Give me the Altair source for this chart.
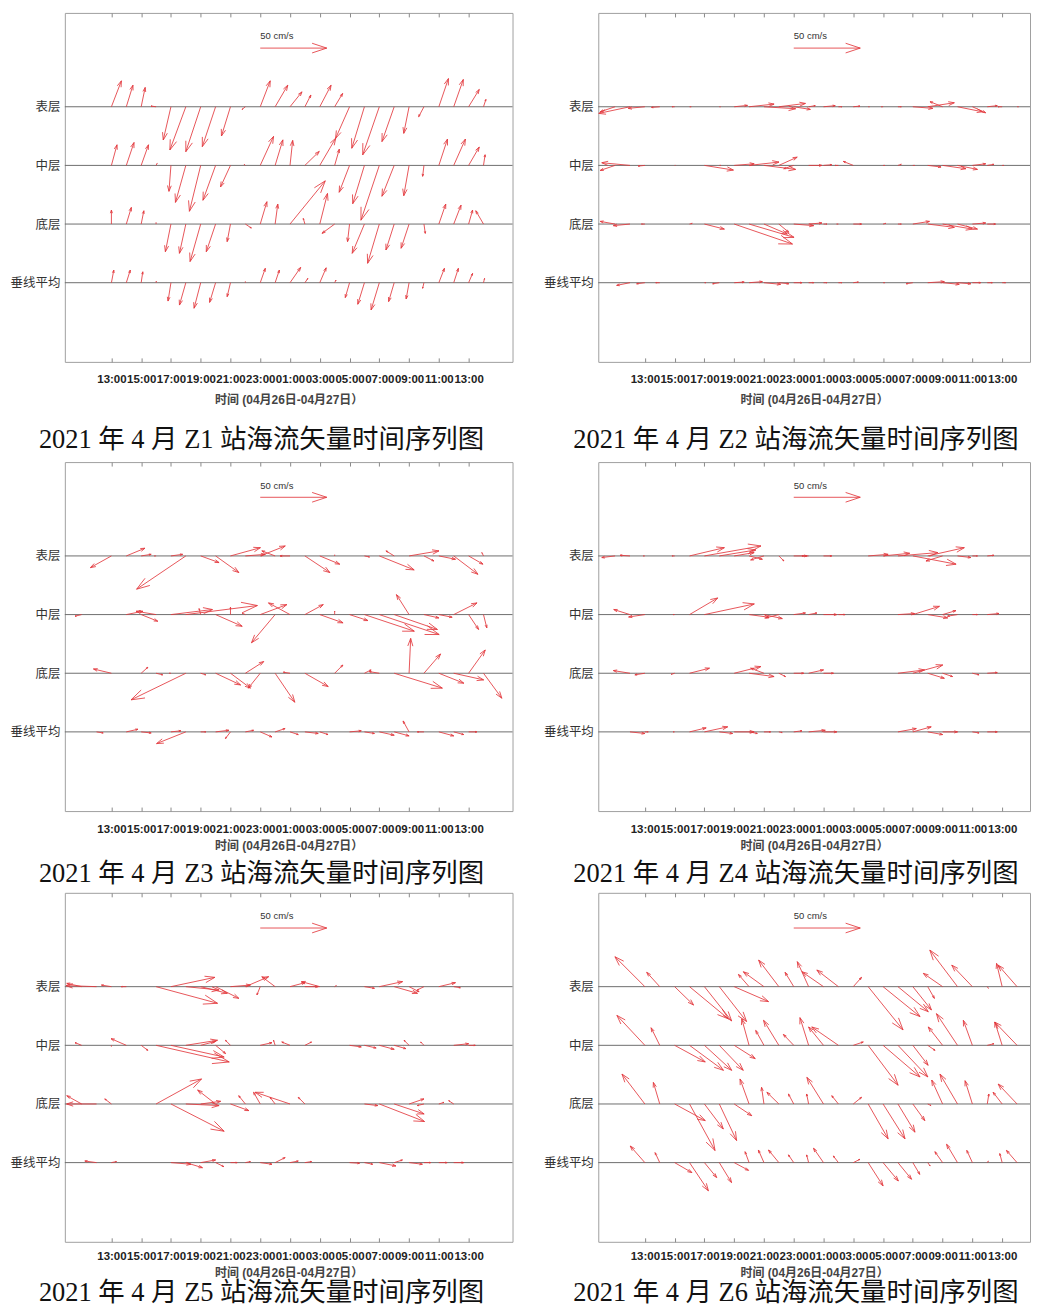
import json
import math
import altair as alt
import pandas as pd

# ---------------- labels / texts ----------------
LEVELS = ["表层", "中层", "底层", "垂线平均"]
LEVEL_POS = [4, 3, 2, 1]
TICK_HOURS = [13, 15, 17, 19, 21, 23, 25, 27, 29, 31, 33, 35, 37]
TICK_LABELS = ["13:00", "15:00", "17:00", "19:00", "21:00", "23:00", "01:00",
               "03:00", "05:00", "07:00", "09:00", "11:00", "13:00"]
X_TITLE = "时间 (04月26日-04月27日）"
CAPTION = "2021 年 4 月 {} 站海流矢量时间序列图"
SCALE_SPEED = 50          # cm/s, reference arrow
SCALE_LABEL = "50 cm/s"
SCALE_T = 23              # hour where the reference arrow starts
SCALE_Y = 5.0
SCALE_LABEL_Y = 5.2

# first hour of each record (hours counted from 00:00 on 04-26)
START = {"Z1": 13, "Z2": 11, "Z3": 11, "Z4": 11, "Z5": 11, "Z6": 13}

# ---------------- current vectors (u east, v north, cm/s), hourly ----------------
# Z1
Z1_U = [
    [7.5, 5.0, 3.0, -3.8, -5.8, -12.0, -11.2, -10.0, -6.8, -2.5, 7.5, 9.5, 9.0, 4.5, 8.5, 6.0, -10.5, -9.5, -12.5, -9.2, -4.0, -4.0, 7.2, 7.2, 8.0, 1.8],
    [4.2, 5.8, 5.5, 0.8, -1.5, -7.8, -8.5, -9.5, -7.5, -1.0, 10.0, 5.8, 2.0, 10.8, 12.0, 3.5, -7.8, -8.8, -13.8, -9.2, -4.0, -1.0, 6.5, 8.8, 8.0, 1.2],
    [0.0, 3.8, 2.0, 0.0, -4.2, -4.8, -8.0, -7.0, -2.5, 4.5, 5.0, 2.0, 26.5, -1.2, 5.8, -9.5, -1.5, -9.2, -8.8, -6.2, -6.0, 1.0, 5.2, 5.5, 3.0, -5.8],
    [1.8, 3.0, 1.2, 0.2, -2.2, -4.8, -5.0, -4.5, -2.5, 0.0, 3.8, 3.2, 8.0, 2.2, 4.8, 1.0, -3.2, -5.0, -6.2, -4.2, -2.2, -1.0, 4.2, 3.5, 3.0, 0.8],
]
Z1_V = [
    [19.5, 16.2, 14.5, 0.5, -25.0, -32.5, -33.8, -30.0, -22.0, -2.0, 19.5, 16.2, 11.2, 8.8, 16.2, 10.0, -23.8, -31.2, -36.2, -26.2, -20.0, -7.5, 21.2, 20.5, 13.0, 5.5],
    [15.5, 17.2, 15.5, 1.5, -19.5, -27.8, -34.5, -26.2, -16.2, 0.8, 21.8, 19.2, 18.8, 10.5, 20.5, 12.2, -20.2, -28.8, -41.2, -23.2, -22.8, -8.2, 19.8, 19.8, 13.8, 8.0],
    [10.5, 12.5, 10.0, 1.0, -20.8, -22.0, -28.2, -20.8, -13.2, -3.0, 16.8, 15.0, 32.5, 4.2, 23.0, -7.0, -13.2, -22.0, -29.5, -19.5, -18.2, -7.0, 15.0, 14.2, 10.5, 10.0],
    [9.5, 9.5, 8.2, 1.2, -13.8, -16.8, -19.2, -14.8, -10.5, 0.8, 10.8, 9.5, 11.5, 3.2, 11.2, 2.0, -11.2, -16.2, -20.5, -14.2, -12.2, -4.2, 10.8, 10.8, 7.0, 3.2],
]
# Z2
Z2_U = [
    [-11.2, -23.5, -12.5, -6.2, -2.0, 1.2, 0.0, 0.8, 10.0, 18.8, 23.8, 20.0, 12.5, 5.0, 8.8, 2.5, 5.0, 0.8, -1.2, 2.5, 15.0, 20.0, -9.5, 18.8, 10.0, 7.5, -3.0, 1.0],
    [-11.2, -21.2, -5.0, 0.0, 0.5, 0.0, 21.8, 1.2, 15.0, 22.5, 23.8, 13.8, -7.5, 10.0, 6.2, -2.5, -7.5, 0.0, 1.2, 2.5, 1.2, 10.0, 17.5, 15.0, 10.0, 5.0, 1.2, 0.0],
    [-11.2, -12.5, -2.5, 0.0, 0.0, 2.0, 15.0, 0.0, 43.8, 33.8, 17.5, 7.5, 15.0, 10.0, 2.5, -1.2, 6.2, 0.0, 2.0, 2.5, 12.5, 20.0, 22.5, 15.0, 10.0, 6.2, 0.0, 0.0],
    [0.0, -10.0, -6.2, -3.0, 0.0, 0.0, 1.2, -5.0, 7.5, 10.0, 12.5, 7.5, 6.2, 3.8, 2.5, 2.5, 3.8, 0.0, 1.2, 0.0, -5.0, 12.5, 12.5, 10.0, 6.2, 3.8, 2.5, 0.0],
]
Z2_V = [
    [-3.8, -5.0, -1.2, -0.5, 0.0, 0.0, 0.0, 0.0, 1.0, 2.0, -1.5, 2.5, -2.0, 0.8, 0.8, 0.0, 0.5, 0.0, 0.0, 0.0, -1.2, 3.0, 3.8, -3.8, -4.5, 0.8, 0.0, 0.0],
    [-3.8, 2.0, -0.5, 0.0, 0.0, 0.0, -3.5, 0.0, 1.2, 2.5, -3.0, 6.2, -2.5, 0.0, 0.5, 0.0, 3.0, 0.0, 0.0, 0.8, 0.0, -1.2, -2.5, -3.0, 1.2, 0.8, 0.0, 0.0],
    [2.0, -1.2, 0.0, 0.0, 0.0, 0.5, -3.8, 0.0, -15.0, -10.0, -7.5, -6.2, -1.2, 0.8, 0.0, 0.0, 0.0, 0.0, 0.5, 0.0, 2.0, -2.5, -3.8, -3.8, 0.8, 0.0, 0.0, 0.0],
    [0.0, -2.0, -0.8, 0.0, 0.0, 0.0, 0.0, -0.8, 0.5, 0.8, -1.2, -0.8, 0.0, 0.0, 0.0, 0.0, 0.5, 0.0, 0.0, 0.0, -0.8, 0.8, -1.2, -0.8, 0.0, 0.0, 0.0, 0.0],
]
# Z3
Z3_U = [
    [0.0, 0.0, -15.8, 14.0, 7.5, -1.2, 8.8, -37.0, 13.8, 17.5, 22.5, 15.0, 18.8, -10.0, -7.5, 18.8, 15.0, 0.0, 0.0, 3.8, 26.2, -6.2, 22.5, 7.5, 12.5, 18.2, 10.8, -1.2],
    [-5.0, 0.0, 0.0, 12.5, 12.5, -15.0, 31.2, 53.8, -1.2, 20.0, 0.0, -2.5, 20.0, -17.8, -16.2, 13.8, 17.5, 0.0, 13.8, 37.5, 45.0, 32.5, -9.5, 11.2, 10.0, 17.5, 7.5, 2.5],
    [0.0, 0.0, -13.5, 0.0, 5.0, 5.0, -1.2, -41.2, 3.8, 18.8, 15.0, 13.8, -9.0, 14.8, -5.0, 17.5, 0.0, 6.2, 0.0, 5.0, -7.5, 36.2, 1.2, 12.5, 18.8, 22.5, 12.5, 13.8],
    [0.0, 5.0, 0.0, 8.8, 7.5, 0.0, 7.5, -22.0, 3.8, 10.0, -3.8, 6.2, 8.8, 7.5, 6.2, 10.0, 6.2, 0.0, 8.8, 7.5, 11.2, 11.2, -4.5, -5.0, 11.2, 7.5, 6.2, 0.0],
]
Z3_V = [
    [0.0, 0.0, -8.8, 5.8, 1.2, 0.0, 1.2, -25.0, -5.0, -12.5, 6.2, 1.2, 7.5, 3.8, 0.0, -12.5, -6.2, 0.8, 0.0, -0.8, -10.5, 3.8, 3.8, -3.8, -2.5, -13.8, -6.2, 2.5],
    [-1.2, 0.0, 0.0, 2.5, -5.0, 2.5, 3.8, 6.8, 4.5, -8.8, 5.5, 1.2, 7.5, -21.2, 8.8, 7.5, -6.2, 2.5, -4.5, -12.5, -15.0, -11.2, 15.0, -2.5, -2.0, 8.8, -11.2, -10.0],
    [0.0, 0.0, 3.2, 0.0, 4.5, -1.2, 0.0, -20.0, -1.2, -8.8, -11.2, 8.8, -11.2, -21.8, 0.8, -10.0, 0.0, 6.2, 0.0, 2.5, 1.2, -11.2, 26.2, 14.5, -7.5, -5.0, 17.5, -18.8],
    [0.0, -0.8, 0.0, 2.0, -0.8, 0.0, 0.8, -8.8, 0.0, 1.2, -5.0, 1.2, -3.8, 2.5, -2.0, -1.2, -2.0, 0.0, 0.8, -1.2, -2.5, -3.0, 8.2, 0.0, -3.0, -2.0, 0.0, 0.0],
]
# Z4
Z4_U = [
    [-10.0, -7.5, -1.2, 0.0, -2.0, 26.2, 42.5, 27.5, 15.0, 10.0, -10.0, 3.8, 10.0, -5.0, 6.2, 0.0, 0.0, 15.0, 20.0, 30.0, 32.5, 27.5, -12.5, 10.0, 3.8, 5.0, 0.0, 0.0],
    [0.0, -12.2, -12.2, 0.0, -1.2, 21.2, 37.5, 0.0, 0.0, 15.0, 13.8, -10.0, 8.8, 6.2, 10.0, 5.0, 0.0, 0.0, 0.0, 12.5, 20.0, 15.0, 10.0, -7.5, 3.8, 8.8, 0.0, 0.0],
    [0.0, -12.5, -7.5, 0.0, -2.5, 15.0, 0.0, 0.0, 20.0, 18.8, -10.0, 5.0, 7.5, 11.2, 7.5, 0.0, 0.0, 0.0, 0.0, 20.0, 22.5, 12.5, 7.5, 0.0, 5.0, 7.5, 0.0, 0.0],
    [0.0, 11.2, 2.5, 0.0, -1.2, 12.5, 17.5, 10.0, 15.0, 6.2, 5.0, 2.5, 6.2, 12.5, 10.0, 0.0, 0.0, 0.0, 0.0, 13.8, 13.8, 11.2, 11.2, 0.0, 5.0, 7.5, 0.0, 0.0],
]
Z4_V = [
    [-1.2, 0.5, 0.0, 0.0, 0.0, 6.2, 7.5, 4.5, 2.5, -2.5, -3.0, -3.8, 0.0, 0.0, 0.0, 0.0, 0.0, 1.2, 2.0, 2.5, -6.2, 6.2, -3.8, -1.2, 0.0, 0.5, 0.0, 0.0],
    [0.0, 3.8, -1.8, 0.0, 0.0, 12.5, 8.0, 0.0, 0.0, -2.0, -3.0, -2.5, 1.2, 1.2, 0.0, 0.0, 0.0, 0.0, 0.0, 0.8, 6.2, -2.5, 3.0, -1.2, 0.0, 0.8, 0.0, 0.0],
    [0.0, 2.0, -1.2, 0.0, -0.8, 3.8, 0.0, 0.0, 5.0, -2.5, 3.8, -2.5, 0.0, 2.5, 0.0, 0.0, 0.0, 0.0, 0.0, 2.5, 6.2, -3.8, -2.5, 0.0, -1.2, 0.5, 0.0, 0.0],
    [0.0, -1.2, 0.0, 0.0, 0.0, 3.0, 3.8, -1.2, 0.0, -1.2, 0.0, -0.5, 0.8, 1.2, 0.0, 0.0, 0.0, 0.0, 0.0, 2.5, 3.8, -2.0, 0.0, 0.0, -0.8, 0.0, 0.0, 0.0],
]
# Z5
Z5_U = [
    [-11.2, -23.0, -7.5, -3.8, 0.0, 46.2, 33.0, 25.0, 20.0, 17.5, 15.0, 17.5, -2.5, -10.0, 11.2, 10.0, -13.8, 1.2, 0.0, 7.5, 17.5, 17.5, 7.5, -5.0, 12.5, 5.0, 0.0, 0.0],
    [-5.0, 0.0, 0.0, -11.5, 5.0, 55.0, 40.0, 23.8, 11.2, 7.5, -3.8, 0.0, 8.8, -1.2, -6.2, 5.0, 0.0, 0.0, 8.8, 8.8, 11.2, 8.8, -3.8, -2.5, 0.0, 11.2, 5.0, 0.0],
    [-11.2, -22.5, -5.0, 0.0, 0.0, 34.2, 40.0, 25.0, 15.0, -13.5, 13.8, -5.0, -5.0, -3.8, -26.2, -5.0, 0.0, 0.0, 0.0, 10.0, 34.0, 22.5, 11.2, -5.0, 3.8, -3.8, 0.0, 0.0],
    [0.0, -8.8, 3.8, 0.0, 0.0, 0.0, 15.0, 12.5, 11.2, 6.2, 5.0, 3.8, 8.8, 7.5, 6.2, 5.0, 0.0, 0.0, 7.5, 6.2, 12.5, 6.2, 10.0, 5.0, 6.2, 7.5, 0.0, 0.0],
]
Z5_V = [
    [2.5, 0.8, 1.2, 0.0, 0.0, -12.5, 7.0, -2.5, -5.0, -8.8, 1.2, 7.5, -6.2, 7.5, 3.0, 0.0, 3.8, 0.8, 0.0, -1.2, 3.8, -5.0, -3.8, -2.5, 3.0, -0.8, 0.0, 0.0],
    [2.0, 0.0, -0.8, 5.0, -3.8, -12.5, -8.8, 3.8, 3.0, -6.2, 3.8, 0.0, 2.0, 3.8, 2.5, 2.5, 0.0, 0.0, -1.2, -2.0, -3.0, -2.5, 3.8, 2.5, 0.0, 1.2, 0.0, 0.0],
    [6.2, 0.0, 3.8, 0.0, 0.0, 18.8, -20.5, -1.2, 2.0, 10.5, -5.0, 6.2, 8.8, 5.0, 8.8, 5.0, 0.0, 0.0, 0.0, -1.2, -13.2, -7.5, 3.8, -1.2, 1.2, 2.5, 0.0, 0.0],
    [0.0, 1.2, 0.8, 0.0, 0.0, 0.0, -1.2, -3.8, 2.0, -3.0, 0.0, 0.8, -1.2, 3.8, 1.2, 0.8, 0.0, 0.0, -0.5, -1.2, -2.5, 2.0, -1.2, 0.0, 0.0, 0.0, 0.0, 0.0],
]
# Z6
Z6_U = [
    [-22.5, -9.8, 14.2, 29.2, 20.5, 20.5, 25.8, -8.0, -15.5, -15.2, -6.5, -8.5, -16.2, -16.2, 6.2, 26.2, 27.8, 22.8, 14.0, 5.0, -14.5, -20.8, -15.5, 0.8, -4.2, -14.2],
    [-21.0, -6.5, 23.0, 25.5, 20.5, 18.0, 15.8, -5.5, -6.2, -11.5, -7.8, -6.5, -11.2, -20.0, 7.5, 22.5, 27.8, 22.5, 11.5, 5.5, -10.8, -15.8, -6.8, 5.0, -5.5, -16.8],
    [-17.2, -4.8, 23.0, 19.2, 14.2, 13.0, 13.2, -6.8, -1.8, -9.0, -4.0, -1.5, -12.5, -5.0, 6.2, 15.0, 16.5, 12.8, 9.0, 2.5, -8.2, -13.2, -5.5, 1.2, -6.8, -14.2],
    [-11.0, -3.5, 13.0, 14.2, 9.2, 9.2, 10.8, -3.0, -4.2, -7.8, -4.0, -1.5, -7.5, -3.8, 5.0, 11.2, 11.5, 10.2, 5.2, 1.8, -5.8, -8.2, -4.2, 0.8, -1.8, -8.0],
]
Z6_V = [
    [22.5, 10.8, -13.8, -24.2, -25.8, -26.2, -11.2, 9.2, 11.2, 20.0, 10.8, 18.8, 11.2, 12.5, 7.0, -32.5, -22.5, -18.8, -17.5, -8.8, 10.0, 27.5, 16.2, -1.2, 17.5, 16.2],
    [22.5, 13.2, -12.5, -18.8, -18.8, -18.8, -10.0, 20.0, 11.2, 18.8, 8.2, 20.8, 13.8, 13.8, 2.5, -30.0, -23.8, -23.8, -15.0, -3.8, 13.8, 23.8, 18.8, 1.2, 17.5, 17.5],
    [22.5, 16.2, -12.5, -35.0, -18.8, -27.5, -8.8, 18.8, 12.5, 8.8, 7.5, 7.5, 20.0, 6.2, 5.0, -26.2, -26.2, -21.2, -12.5, -1.2, 18.0, 22.5, 17.5, 7.5, 8.8, 15.0],
    [12.5, 7.5, -7.5, -21.2, -11.2, -15.0, -5.8, 8.2, 9.5, 9.5, 5.8, 5.8, 10.8, 5.0, 2.5, -17.5, -13.8, -12.5, -8.8, -2.5, 8.2, 13.8, 9.2, 1.2, 6.8, 9.2],
]
DATA = {"Z1": (Z1_U, Z1_V), "Z2": (Z2_U, Z2_V), "Z3": (Z3_U, Z3_V),
        "Z4": (Z4_U, Z4_V), "Z5": (Z5_U, Z5_V), "Z6": (Z6_U, Z6_V)}

# ---------------- geometry of the panels ----------------
X_MIN = 9.87
X_MAX_LEFT = 39.95
X_MAX_RIGHT = 38.87
W_LEFT = 449
W_RIGHT = 433
H = 350
Y_DOM = [-0.35, 5.6]
PX_PER_HOUR = W_LEFT / (X_MAX_LEFT - X_MIN)
PX_PER_LEVEL = H / (Y_DOM[1] - Y_DOM[0])
PX_PER_CMS = 66.7 / SCALE_SPEED          # length of the 50 cm/s reference arrow
HEAD_A, HEAD_B = 0.22, 0.33               # quiver-style head length / width ratios

RED = "#e2383c"


def arrow_rows(t0, y0, u, v, rows):
    dx, dy = u * PX_PER_CMS, v * PX_PER_CMS
    if math.hypot(dx, dy) < 0.4:
        return
    tx, ty = t0 + dx / PX_PER_HOUR, y0 + dy / PX_PER_LEVEL
    rows.append({"x": t0, "y": y0, "x2": tx, "y2": ty})
    for s in (1, -1):
        hx = dx - HEAD_A * (dx + s * HEAD_B * dy)
        hy = dy - HEAD_A * (dy - s * HEAD_B * dx)
        rows.append({"x": tx, "y": ty, "x2": t0 + hx / PX_PER_HOUR, "y2": y0 + hy / PX_PER_LEVEL})


def seg_table(station):
    us, vs = DATA[station]
    rows = []
    for lev, ul, vl in zip(LEVEL_POS, us, vs):
        for i, (u, v) in enumerate(zip(ul, vl)):
            arrow_rows(START[station] + i, lev, u, v, rows)
    arrow_rows(SCALE_T, SCALE_Y, SCALE_SPEED, 0, rows)
    return pd.DataFrame(rows)


X_LABEL_EXPR = "{}[indexof({}, datum.value)]".format(
    json.dumps(TICK_LABELS, ensure_ascii=False), json.dumps(TICK_HOURS))
Y_LABEL_EXPR = "{}[indexof({}, datum.value)]".format(
    json.dumps(LEVELS, ensure_ascii=False), json.dumps(LEVEL_POS))


def panel(station, right, label_pad, title_pad, cap_offset):
    width = W_RIGHT if right else W_LEFT
    xs = alt.Scale(domain=[X_MIN, X_MAX_RIGHT if right else X_MAX_LEFT], nice=False, zero=False)
    ys = alt.Scale(domain=Y_DOM, nice=False, zero=False)
    x_axis = alt.Axis(values=TICK_HOURS, labelExpr=X_LABEL_EXPR, orient="bottom", offset=-4,
                      tickSize=4, tickColor="#8a8a8a", domain=False, grid=False,
                      labelFont="Liberation Sans", labelFontSize=11.5, labelFontWeight="bold",
                      labelColor="#222", labelPadding=label_pad, labelOverlap=False,
                      labelFlush=False, title=X_TITLE,
                      titleFont="Liberation Sans, Noto Sans CJK SC", titleFontSize=12,
                      titleFontWeight="bold", titleColor="#444", titlePadding=title_pad)
    top_axis = alt.Axis(values=TICK_HOURS, orient="top", offset=-4, tickSize=4,
                        tickColor="#8a8a8a", domain=False, grid=False, labels=False, title=None)
    y_axis = alt.Axis(values=LEVEL_POS, labelExpr=Y_LABEL_EXPR, ticks=False, domain=False,
                      grid=False, labelFont="Noto Sans CJK SC", labelFontSize=12.5,
                      labelColor="#333", labelPadding=5, title=None)

    lines = alt.Chart(pd.DataFrame({"lev": LEVEL_POS})).mark_rule(
        color="#6e6e6e", strokeWidth=1).encode(y=alt.Y("lev:Q", scale=ys, axis=y_axis))
    arrows = alt.Chart(seg_table(station)).mark_rule(
        color=RED, strokeWidth=0.85, clip=True).encode(
        x=alt.X("x:Q", scale=xs, axis=x_axis), x2="x2:Q",
        y=alt.Y("y:Q", scale=ys, axis=y_axis), y2="y2:Q")
    top = alt.Chart(pd.DataFrame({"t": TICK_HOURS})).mark_rule(opacity=0).encode(
        x=alt.X("t:Q", scale=xs, axis=top_axis))
    label = alt.Chart(pd.DataFrame({"t": [SCALE_T], "y": [SCALE_LABEL_Y], "s": [SCALE_LABEL]})).mark_text(
        align="left", baseline="middle", font="Liberation Sans", fontSize=9.5, color="#333").encode(
        x=alt.X("t:Q", scale=xs, axis=None), y=alt.Y("y:Q", scale=ys, axis=y_axis), text="s:N")

    return alt.layer(lines, arrows, top, label).resolve_axis(x="independent").properties(
        width=width, height=H,
        title=alt.TitleParams(CAPTION.format(station), orient="bottom", anchor="middle",
                              frame="bounds", dx=9 if right else 0,
                              font="Liberation Serif, Noto Sans CJK SC", fontSize=26.5,
                              fontWeight="normal", color="#111", offset=cap_offset))


row1 = alt.hconcat(panel("Z1", False, 12, 9, 22), panel("Z2", True, 12, 9, 22), spacing=29)
row2 = alt.hconcat(panel("Z3", False, 12, 6, 10), panel("Z4", True, 12, 6, 10), spacing=29)
row3 = alt.hconcat(panel("Z5", False, 9, 5, 2), panel("Z6", True, 9, 5, 2), spacing=29)

chart = alt.vconcat(row1, alt.vconcat(row2, row3, spacing=3), spacing=6.5).properties(
    padding={"left": 1, "top": 2, "right": 0, "bottom": 10}
).configure(background="white").configure_view(stroke="#a0a0a0", strokeWidth=1)

chart.save("out.html", embed_options={"renderer": "svg", "actions": False})
